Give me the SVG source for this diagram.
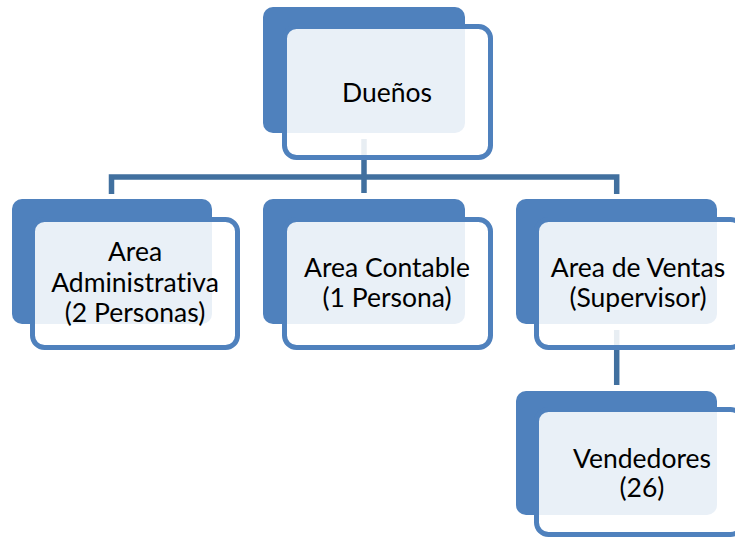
<svg xmlns="http://www.w3.org/2000/svg" width="735" height="540" viewBox="0 0 735 540">
<style>
.back{fill:#4F81BD;}
.front{fill:#FFFFFF;fill-opacity:0.88;stroke:#4F81BD;stroke-width:5;}
.conn{fill:none;stroke:#41709F;stroke-width:5.5;}
text{font-family:Lato,"Open Sans",sans-serif;font-size:26.5px;fill:#000;text-anchor:middle;font-variant-ligatures:none;}
</style>
<rect width="735" height="540" fill="#FFFFFF"/>
<g id="backs">
<rect class="back" x="263" y="7" width="202" height="126" rx="10"/>
<rect class="back" x="12" y="199" width="200" height="125" rx="10"/>
<rect class="back" x="263" y="199" width="202" height="125" rx="10"/>
<rect class="back" x="516" y="199" width="201" height="125" rx="10"/>
<rect class="back" x="516" y="391" width="201" height="124" rx="10"/>
</g>
<g id="connectors">
<path class="conn" d="M364 139 V177"/>
<path class="conn" d="M111.5 194 V177 H616.7 V194"/>
<path class="conn" d="M364 177 V193"/>
<path class="conn" d="M616.7 330 V385"/>
</g>
<g id="node-duenos">
<rect class="front" x="284.5" y="26.5" width="206" height="131" rx="12"/>
<text x="387" y="102">Dueños</text>
</g>
<g id="node-admin">
<rect class="front" x="32.5" y="219.5" width="205" height="128" rx="12"/>
<text x="135" y="261">Area</text>
<text x="135" y="292">Administrativa</text>
<text x="135" y="322">(2 Personas)</text>
</g>
<g id="node-contable">
<rect class="front" x="284.5" y="219.5" width="206" height="128" rx="12"/>
<text x="387" y="277">Area Contable</text>
<text x="387" y="307">(1 Persona)</text>
</g>
<g id="node-ventas">
<rect class="front" x="536.5" y="219.5" width="206" height="128" rx="12"/>
<text x="638" y="277">Area de Ventas</text>
<text x="638" y="307">(Supervisor)</text>
</g>
<g id="node-vendedores">
<rect class="front" x="536.5" y="409.5" width="206" height="125" rx="12"/>
<text x="642" y="468">Vendedores</text>
<text x="642" y="497">(26)</text>
</g>
</svg>
